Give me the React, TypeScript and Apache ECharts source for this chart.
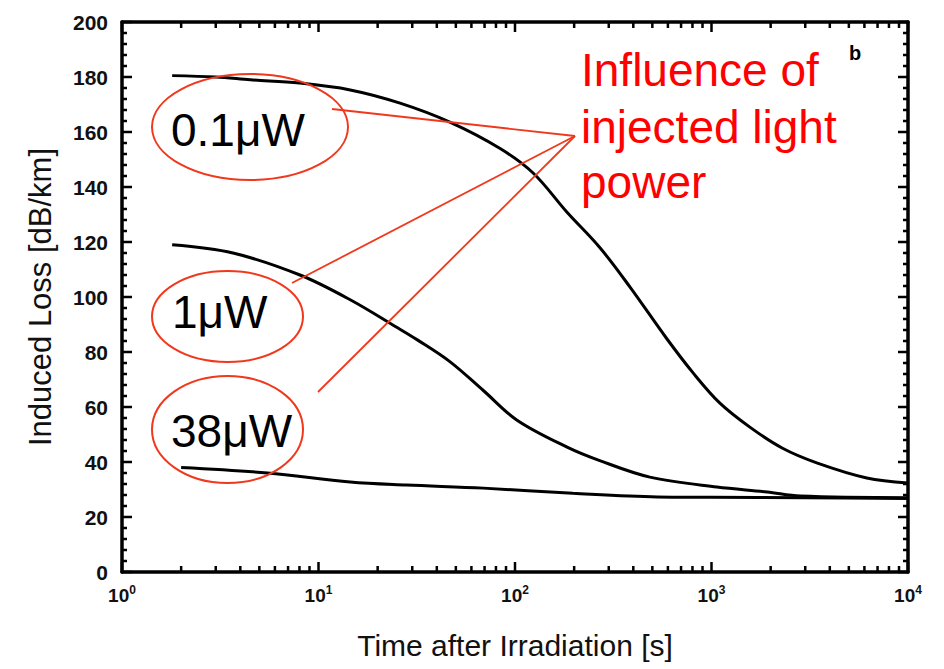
import React, { useEffect, useRef } from "react";
import * as echarts from "echarts";

// ---- Data ----
const time01: number[] = [1.8, 3, 4.5, 8, 14.5, 26, 46.6, 84, 124, 183, 270, 385, 590, 806, 1100, 1580, 2300, 3460, 6170, 10000];
const loss01: number[] = [180.5, 180, 179, 177.8, 175.3, 170.5, 163.6, 154, 145, 131, 118, 103.6, 85, 72.4, 61.5, 52.5, 45, 39.6, 34.2, 32.4];

const time1: number[] = [1.8, 3.67, 8.05, 14.5, 25, 31.7, 46.6, 69, 102, 183, 270, 486, 1065, 1920, 2830, 10000];
const loss1: number[] = [119, 116, 108, 99, 89, 84.5, 76.5, 66, 55.3, 45.5, 40.5, 34.5, 30.9, 29.1, 27.6, 27];

const time38: number[] = [2.0, 5.5, 14.5, 28, 69, 197, 530, 1000, 3000, 10000];
const loss38: number[] = [38, 36, 32.7, 31.6, 30.5, 28.6, 27.3, 27.2, 27, 26.7];

// ---- Tick positions ----
const xMajorTicks: number[] = [1, 10, 100, 1000, 10000];
const xMinorTicks: number[] = [
  2, 3, 4, 5, 6, 7, 8, 9,
  20, 30, 40, 50, 60, 70, 80, 90,
  200, 300, 400, 500, 600, 700, 800, 900,
  2000, 3000, 4000, 5000, 6000, 7000, 8000, 9000,
];
const yMajorTicks: number[] = [0, 20, 40, 60, 80, 100, 120, 140, 160, 180, 200];
const yMinorTicks: number[] = [
  4, 8, 12, 16, 24, 28, 32, 36, 44, 48, 52, 56, 64, 68, 72, 76,
  84, 88, 92, 96, 104, 108, 112, 116, 124, 128, 132, 136, 144, 148, 152, 156,
  164, 168, 172, 176, 184, 188, 192, 196,
];

const seriesNames: string[] = ["0.1μW", "1μW", "38μW"];
const annotationText: string[] = ["Influence of", "injected light", "power"];
const yAxisTitle = "Induced Loss [dB/km]";
const xAxisTitle = "Time after Irradiation [s]";

const FONT = '"Liberation Sans", Arial, Helvetica, sans-serif';
const RED_LINE = "#f0381c";
const RED_TEXT = "#ff0000";
const INK = "#000";
const X_MIN = 1;
const X_MAX = 10000;
const Y_MIN = 0;
const Y_MAX = 200;

// plot geometry (grid), used only to express tick lengths in pixels
const GRID = { left: 122, right: 36, top: 22, bottom: 97 };
const PLOT_W = 944 - GRID.left - GRID.right;
const PLOT_H = 669 - GRID.top - GRID.bottom;

function pairs(t: number[], v: number[]) {
  return t.map((x, i) => [x, v[i]]);
}

// Tick marks as short segments in data space (drawn through the axes' scales)
function buildTickSegments(): any[] {
  const segs: any[] = [];
  const yPerPx = (Y_MAX - Y_MIN) / PLOT_H;
  const decadesPerPx = Math.log10(X_MAX / X_MIN) / PLOT_W;
  const addX = (v: number, lenPx: number) => {
    const d = lenPx * yPerPx;
    segs.push([v, Y_MIN], [v, Y_MIN + d], "-", [v, Y_MAX], [v, Y_MAX - d], "-");
  };
  const addY = (v: number, lenPx: number) => {
    const f = Math.pow(10, lenPx * decadesPerPx);
    segs.push([X_MIN, v], [X_MIN * f, v], "-", [X_MAX, v], [X_MAX / f, v], "-");
  };
  xMajorTicks.forEach((v) => addX(v, 10));
  xMinorTicks.forEach((v) => addX(v, 6));
  yMajorTicks.forEach((v) => addY(v, 10));
  yMinorTicks.forEach((v) => addY(v, 5));
  return segs;
}

export default function App() {
  const ref = useRef<HTMLDivElement>(null);

  useEffect(() => {
    if (!ref.current) return;
    document.body.style.margin = "0";
    const chart = echarts.init(ref.current, undefined, { renderer: "svg" });

    const labelRich = {
      b: { fontSize: 19, fontWeight: "bold", fontFamily: FONT, color: "#111", lineHeight: 22 },
      s: { fontSize: 12, fontWeight: "bold", fontFamily: FONT, color: "#111", verticalAlign: "top" },
    };
    const lineSeries = (name: string, t: number[], v: number[]) => ({
      name,
      type: "line",
      data: pairs(t, v),
      symbol: "none",
      smooth: 0.35,
      lineStyle: { color: INK, width: 3 },
      xAxisIndex: 0,
      yAxisIndex: 0,
    });

    const option: any = {
      animation: false,
      grid: { left: GRID.left, right: GRID.right, top: GRID.top, bottom: GRID.bottom },
      xAxis: [
        {
          type: "log",
          logBase: 10,
          min: X_MIN,
          max: X_MAX,
          position: "bottom",
          name: xAxisTitle,
          nameLocation: "middle",
          nameGap: 58,
          nameTextStyle: { fontSize: 30, fontFamily: FONT, color: "#111" },
          axisLine: { show: true, onZero: false, lineStyle: { color: INK, width: 3.5 } },
          axisTick: { show: false },
          axisLabel: {
            margin: 12,
            formatter: (val: number) => `{b|10}{s|${Math.round(Math.log10(val))}}`,
            rich: labelRich,
          },
          splitLine: { show: false },
        },
        {
          type: "log",
          logBase: 10,
          min: X_MIN,
          max: X_MAX,
          position: "top",
          axisLine: { show: true, onZero: false, lineStyle: { color: INK, width: 3.5 } },
          axisTick: { show: false },
          axisLabel: { show: false },
          splitLine: { show: false },
        },
      ],
      yAxis: [
        {
          type: "value",
          min: Y_MIN,
          max: Y_MAX,
          interval: 20,
          position: "left",
          name: yAxisTitle,
          nameLocation: "middle",
          nameGap: 66,
          nameRotate: 90,
          nameTextStyle: { fontSize: 31, fontFamily: FONT, color: "#111" },
          axisLine: { show: true, onZero: false, lineStyle: { color: INK, width: 3.5 } },
          axisTick: { show: false },
          axisLabel: { margin: 14, fontSize: 21, fontWeight: "bold", fontFamily: FONT, color: "#111" },
          splitLine: { show: false },
        },
        {
          type: "value",
          min: Y_MIN,
          max: Y_MAX,
          interval: 20,
          position: "right",
          axisLine: { show: true, onZero: false, lineStyle: { color: INK, width: 3.5 } },
          axisTick: { show: false },
          axisLabel: { show: false },
          splitLine: { show: false },
        },
      ],
      series: [
        lineSeries(seriesNames[0], time01, loss01),
        lineSeries(seriesNames[1], time1, loss1),
        lineSeries(seriesNames[2], time38, loss38),
        {
          name: "ticks",
          type: "line",
          data: buildTickSegments(),
          symbol: "none",
          connectNulls: false,
          clip: false,
          silent: true,
          lineStyle: { color: INK, width: 2.5 },
          xAxisIndex: 0,
          yAxisIndex: 0,
          z: 3,
        },
      ],
      graphic: [
        { type: "ellipse", z: 100, shape: { cx: 250, cy: 127, rx: 98, ry: 53 }, style: { fill: "none", stroke: RED_LINE, lineWidth: 2 } },
        { type: "ellipse", z: 100, shape: { cx: 227.5, cy: 316.5, rx: 75.5, ry: 45.5 }, style: { fill: "none", stroke: RED_LINE, lineWidth: 2 } },
        { type: "ellipse", z: 100, shape: { cx: 227.5, cy: 429.5, rx: 75.5, ry: 53.5 }, style: { fill: "none", stroke: RED_LINE, lineWidth: 2 } },
        { type: "line", z: 100, shape: { x1: 575, y1: 136, x2: 332, y2: 109 }, style: { stroke: RED_LINE, lineWidth: 1.8 } },
        { type: "line", z: 100, shape: { x1: 575, y1: 136, x2: 292, y2: 283 }, style: { stroke: RED_LINE, lineWidth: 1.8 } },
        { type: "line", z: 100, shape: { x1: 575, y1: 136, x2: 318, y2: 392 }, style: { stroke: RED_LINE, lineWidth: 1.8 } },
        { type: "text", z: 100, x: 171, y: 130, style: { text: seriesNames[0], fontSize: 46, fontFamily: FONT, fill: "#000", verticalAlign: "middle" } },
        { type: "text", z: 100, x: 172, y: 312, style: { text: seriesNames[1], fontSize: 46, fontFamily: FONT, fill: "#000", verticalAlign: "middle" } },
        { type: "text", z: 100, x: 171, y: 431, style: { text: seriesNames[2], fontSize: 46, fontFamily: FONT, fill: "#000", verticalAlign: "middle" } },
        { type: "text", z: 100, x: 581, y: 70, style: { text: annotationText[0], fontSize: 46, fontFamily: FONT, fill: RED_TEXT, verticalAlign: "middle" } },
        { type: "text", z: 100, x: 581, y: 127, style: { text: annotationText[1], fontSize: 46, fontFamily: FONT, fill: RED_TEXT, verticalAlign: "middle" } },
        { type: "text", z: 100, x: 581, y: 182, style: { text: annotationText[2], fontSize: 46, fontFamily: FONT, fill: RED_TEXT, verticalAlign: "middle" } },
        { type: "text", z: 100, x: 849, y: 53, style: { text: "b", fontSize: 20, fontWeight: "bold", fontFamily: FONT, fill: "#000", verticalAlign: "middle" } },
      ],
    };

    chart.setOption(option);
    return () => chart.dispose();
  }, []);

  return <div ref={ref} style={{ width: 944, height: 669 }} />;
}
